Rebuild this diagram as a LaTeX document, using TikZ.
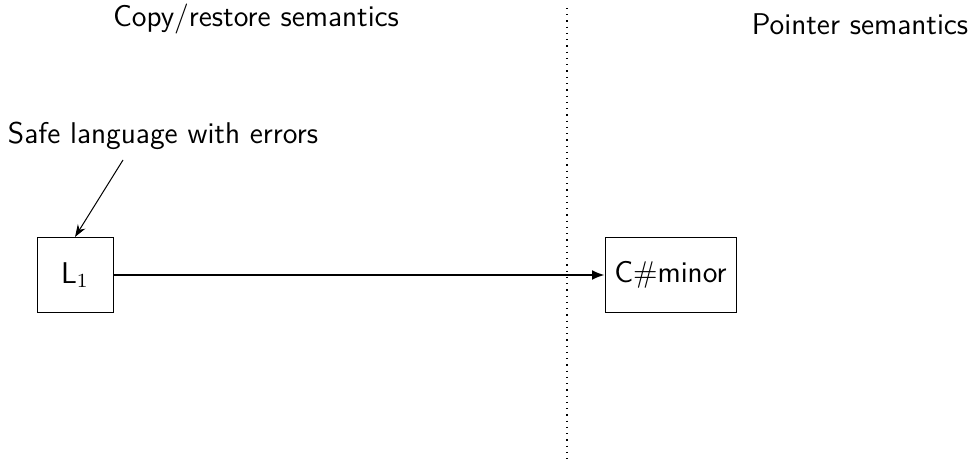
\documentclass[tikz,border=0pt]{standalone}
\usetikzlibrary{arrows.meta}
\begin{document}
\begin{tikzpicture}[x=0.4pt,y=-0.4pt,
  every node/.style={font=\sffamily\fontsize{12}{14.5}\selectfont},
  lang/.style={draw, line width=0.4pt, minimum height=75*0.4pt, inner sep=0pt},
  title/.style={inner sep=0pt},
  flow/.style={line width=0.7pt, -{Latex[length=5pt,width=4pt]}},
  note/.style={line width=0.4pt, -{Stealth[length=5pt,width=3.5pt]}}]
  \useasboundingbox (0,0) rectangle (971,459);
  % separator between the two semantics
  \coordinate (sepTop) at (567,8);
  \coordinate (sepBot) at (567,459);
  \draw[dotted, line width=0.5pt] (sepTop) -- (sepBot);
  % column headings
  \node[title, anchor=base] (copyTitle) at (256,27) {Copy/restore semantics};
  \node[title, anchor=base] (ptrTitle) at (860,35) {Pointer semantics};
  % languages
  \node[lang, minimum width=76*0.4pt] (L1) at (75,275) {L$_1$};
  \node[lang, minimum width=131*0.4pt] (Cm) at (670.5,275) {C\#minor};
  \node[title, anchor=base] (safe) at (163,143) {Safe language with errors};
  \coordinate (noteStart) at (123,160);
  \draw[note] (noteStart) -- (L1.north);
  \draw[flow] (L1) -- (Cm);
\end{tikzpicture}
\end{document}
